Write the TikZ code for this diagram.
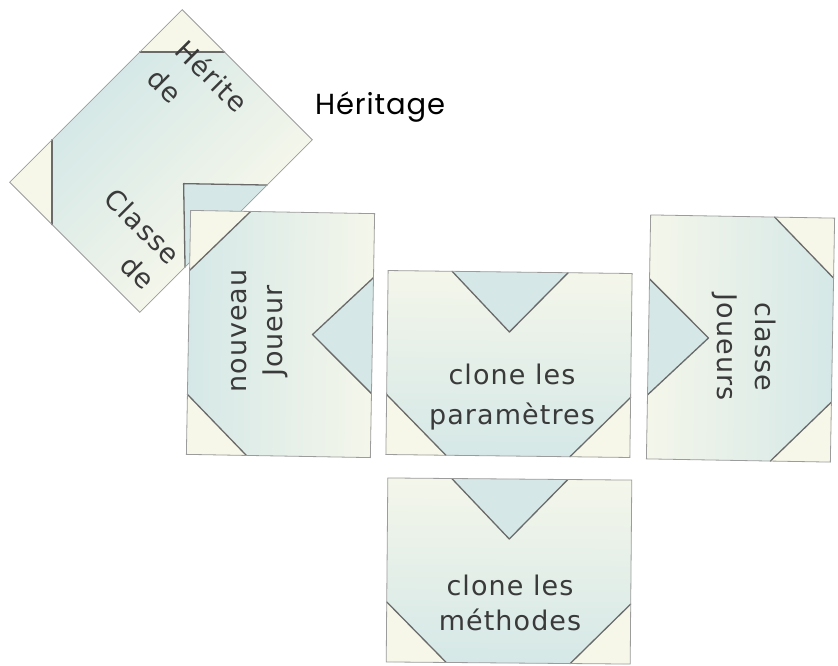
\documentclass[tikz,border=0pt]{standalone}
\usepackage{fontspec}
\newfontfamily\handfont[LetterSpace=4]{DejaVu Sans}
\newfontfamily\headfont[LetterSpace=3]{Poppins}

\definecolor{cardblue}{HTML}{D5E8E7}
\definecolor{cardcream}{HTML}{F4F6EA}
\definecolor{cornercream}{HTML}{F7F7E9}
\definecolor{foldgray}{HTML}{6A6A6A}
\definecolor{edgegray}{HTML}{9C9C9C}
\definecolor{inkgray}{HTML}{3A3A3A}

\tikzset{
  foldstroke/.style={draw=foldgray, line width=1.3pt, line join=round, line cap=round},
  cardedge/.style={draw=edgegray, line width=0.8pt},
  cardtext/.style={font=\handfont\fontsize{27}{#1}\selectfont, text=inkgray,
    align=center, inner sep=0pt},
  cardtext/.default=38,
  headtext/.style={font=\headfont\fontsize{29}{32}\selectfont, text=black, inner sep=0pt},
  % one folded card, drawn upright: folded corners on the left, notch on the right
  pics/foldcard/.style={code={
    \shade[left color=cardblue, right color=cardcream] (-92,-122) rectangle (92,122);
    \fill[cornercream] (-92,-122) -- (-32,-122) -- (-92,-62) -- cycle;
    \fill[cornercream] (-92,122) -- (-32,122) -- (-92,62) -- cycle;
    \fill[cardblue] (92,-58) -- (32,0) -- (92,58) -- cycle;
    \draw[foldstroke] (-32,-122) -- (-92,-62);
    \draw[foldstroke] (-32,122) -- (-92,62);
    \draw[foldstroke] (92,-58) -- (32,0) -- (92,58);
    \draw[cardedge] (-92,-122) rectangle (92,122);
  }},
}

\begin{document}
\begin{tikzpicture}[x=1pt, y=-1pt]
  \useasboundingbox (0,0) rectangle (838,665);

  % cards, each turned into place
  \begin{scope}[transform canvas={shift={(161,161)}, rotate=-45}]
    \pic {foldcard};
  \end{scope}
  \begin{scope}[transform canvas={shift={(280.5,334)}, rotate=-1}]
    \pic {foldcard};
  \end{scope}
  \begin{scope}[transform canvas={shift={(509,364)}, rotate=89.3}]
    \pic {foldcard};
  \end{scope}
  \begin{scope}[transform canvas={shift={(740.5,338.5)}, rotate=179}]
    \pic {foldcard};
  \end{scope}
  \begin{scope}[transform canvas={shift={(509,571)}, rotate=89.5}]
    \pic {foldcard};
  \end{scope}

  % card texts
  \node[cardtext=40, rotate=-45, align=left] (herite) at (198,90) {Hérite\\de};
  \node[cardtext=36, rotate=-45, align=right] (classede) at (130,239) {Classe\\de};
  \node[cardtext=36, rotate=90] (nouveau) at (260,331) {nouveau\\Joueur};
  \node[cardtext=40] (params) at (512,397) {clone les\\paramètres};
  \node[cardtext=38, rotate=-90] (joueurs) at (744,347) {classe\\Joueurs};
  \node[cardtext=35] (methodes) at (510,603) {clone les\\méthodes};

  % heading
  \node[headtext, anchor=base west] (heritage) at (315,114) {Héritage};
\end{tikzpicture}
\end{document}
